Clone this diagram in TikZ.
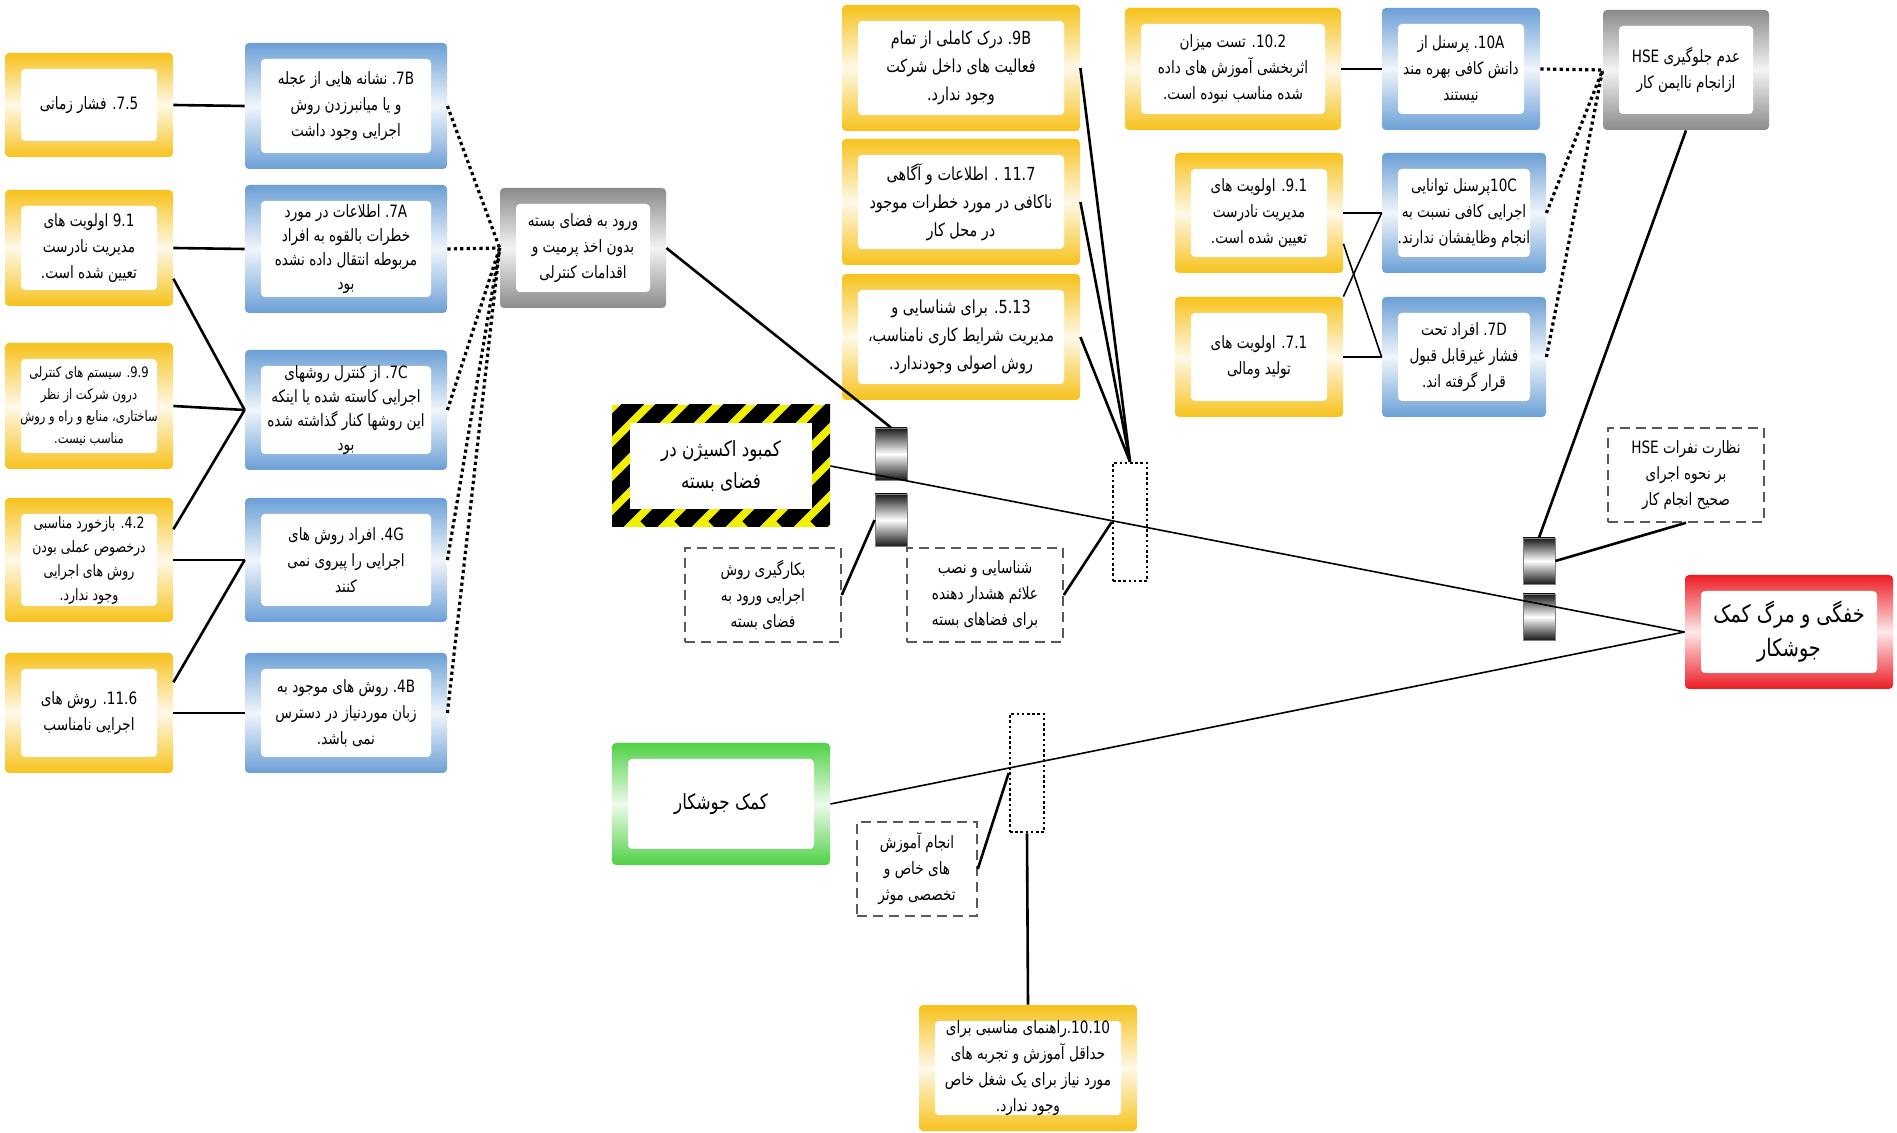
\documentclass[tikz,border=0pt]{standalone}
\usepackage{fontspec}
\newfontfamily\fafont[Script=Arabic, FakeStretch=0.8]{DejaVu Sans}
\TeXXeTstate=1
\newcommand{\fa}[1]{\beginR #1\endR}
\newcommand{\nm}[1]{\beginL #1\endL{}}
\definecolor{boxyellow}{HTML}{F7C21C}
\definecolor{boxblue}{HTML}{6B9FD6}
\definecolor{boxgrey}{HTML}{8A8A8A}
\definecolor{boxred}{HTML}{EC1C24}
\definecolor{boxgreen}{HTML}{4FD144}
\definecolor{hazyellow}{HTML}{F0F000}
\tikzset{
  glowbox/.style={rounded corners=2pt, top color=#1, bottom color=#1, middle color=#1!10,
    align=center, inner sep=0pt,
    path picture={\fill[white] ([xshift=8pt,yshift=-8pt]path picture bounding box.north west)
      rectangle ([xshift=-8pt,yshift=8pt]path picture bounding box.south east);}},
  ybox/.style={glowbox=boxyellow, minimum width=84pt, minimum height=60pt},
  bbox/.style={glowbox=boxblue, minimum width=101pt, minimum height=62pt},
  gbox/.style={glowbox=boxgrey, minimum width=83pt, minimum height=60pt},
  hazbox/.style={minimum width=109pt, minimum height=61pt, align=center, inner sep=0pt,
    path picture={
      \fill[hazyellow] (path picture bounding box.south west) rectangle (path picture bounding box.north east);
      \foreach \k in {-5,...,8}
        \draw[line width=8pt] ([xshift=\k*17pt]path picture bounding box.south west) -- ++(70pt,70pt);
      \fill[white] ([xshift=9pt,yshift=-9pt]path picture bounding box.north west)
        rectangle ([xshift=-9pt,yshift=9pt]path picture bounding box.south east);}},
  barrier/.style={draw=black!50, top color=black!90, bottom color=black!90, middle color=white,
    minimum width=16pt, minimum height=26pt, inner sep=0pt},
  dbox/.style={draw=black!65, line width=0.8pt, dash pattern=on 5pt off 3pt, align=center,
    minimum width=78pt, minimum height=47pt, inner sep=0pt},
  dotrect/.style={draw, line width=1.3pt, dash pattern=on 1.3pt off 1.3pt,
    minimum width=17pt, minimum height=59pt, inner sep=0pt},
  link/.style={line width=1.3pt},
  thinlink/.style={line width=0.8pt},
  dots/.style={line width=1.6pt, dash pattern=on 1.6pt off 1.6pt}
}
\begin{document}
\begin{tikzpicture}[x=0.5pt, y=-0.5pt, font=\fafont\fontsize{8.5}{13}\selectfont]
\useasboundingbox[fill=white] (0,0) rectangle (1897,1133);

% left column, yellow
\node[ybox, minimum height=52pt] (y1) at (89,105) {\fa{\nm{7.5}. فشار زمانی}};
\node[ybox, minimum height=58pt] (y2) at (89,248) {\fa{\nm{9.1} اولویت های}\\\fa{مدیریت نادرست}\\\fa{تعیین شده است.}};
\node[ybox, minimum height=63pt, font=\fafont\fontsize{7.2}{11}\selectfont] (y3) at (89,406) {\fa{\nm{9.9}. سیستم های کنترلی}\\\fa{درون شرکت از نظر}\\\fa{ساختاری، منابع و راه و روش}\\\fa{مناسب نیست.}};
\node[ybox, minimum height=62pt, font=\fafont\fontsize{7.8}{12}\selectfont] (y4) at (89,560) {\fa{\nm{4.2}. بازخورد مناسبی}\\\fa{درخصوص عملی بودن}\\\fa{روش های اجرایی}\\\fa{وجود ندارد.}};
\node[ybox] (y5) at (89,713) {\fa{\nm{11.6}. روش های}\\\fa{اجرایی نامناسب}};

% left column, blue
\node[bbox, minimum height=63pt] (b1) at (346,106) {\fa{\nm{7B}. نشانه هایی از عجله}\\\fa{و یا میانبرزدن روش}\\\fa{اجرایی وجود داشت}};
\node[bbox, minimum height=64pt, font=\fafont\fontsize{8.5}{12}\selectfont] (b2) at (346,249) {\fa{\nm{7A}. اطلاعات در مورد}\\\fa{خطرات بالقوه به افراد}\\\fa{مربوطه انتقال داده نشده}\\\fa{بود}};
\node[bbox, minimum height=60pt, font=\fafont\fontsize{8.5}{12}\selectfont] (b3) at (346,410) {\fa{\nm{7C}. از کنترل روشهای}\\\fa{اجرایی کاسته شده یا اینکه}\\\fa{این روشها کنار گذاشته شده}\\\fa{بود}};
\node[bbox] (b4) at (346,560) {\fa{\nm{4G}. افراد روش های}\\\fa{اجرایی را پیروی نمی}\\\fa{کنند}};
\node[bbox, minimum height=60pt] (b5) at (346,713) {\fa{\nm{4B}. روش های موجود به}\\\fa{زبان موردنیاز در دسترس}\\\fa{نمی باشد.}};

\node[gbox] (g1) at (583,248) {\fa{ورود به فضای بسته}\\\fa{بدون اخذ پرمیت و}\\\fa{اقدامات کنترلی}};

% top middle
\node[ybox, minimum width=119pt, minimum height=63pt, font=\fafont\fontsize{9}{14}\selectfont] (t1) at (961,68) {\fa{\nm{9B}. درک کاملی از تمام}\\\fa{فعالیت های داخل شرکت}\\\fa{وجود ندارد.}};
\node[ybox, minimum width=119pt, minimum height=63pt, font=\fafont\fontsize{9}{14}\selectfont] (t2) at (961,202) {\fa{\nm{11.7} . اطلاعات و آگاهی}\\\fa{ناکافی در مورد خطرات موجود}\\\fa{در محل کار}};
\node[ybox, minimum width=119pt, minimum height=63pt, font=\fafont\fontsize{9}{14}\selectfont] (t3) at (961,337) {\fa{\nm{5.13}. برای شناسایی و}\\\fa{مدیریت شرایط کاری نامناسب،}\\\fa{روش اصولی وجودندارد.}};

% top right
\node[ybox, minimum width=108pt, minimum height=61pt] (t4) at (1233,69) {\fa{\nm{10.2}. تست میزان}\\\fa{اثربخشی آموزش های داده}\\\fa{شده مناسب نبوده است.}};
\node[bbox, minimum width=79pt, minimum height=61pt] (b6) at (1461,69) {\fa{\nm{10A}. پرسنل از}\\\fa{دانش کافی بهره مند}\\\fa{نیستند}};
\node[gbox] (g2) at (1686,70) {\fa{عدم جلوگیری \nm{HSE}}\\\fa{ازانجام ناایمن کار}};
\node[ybox] (y7) at (1259,213) {\fa{\nm{9.1}. اولویت های}\\\fa{مدیریت نادرست}\\\fa{تعیین شده است.}};
\node[ybox] (y8) at (1259,357) {\fa{\nm{7.1}. اولویت های}\\\fa{تولید ومالی}};
\node[bbox, minimum width=82pt, minimum height=60pt] (b7) at (1464,213) {\fa{\nm{10C}پرسنل توانایی}\\\fa{اجرایی کافی نسبت به}\\\fa{انجام وظایفشان ندارند.}};
\node[bbox, minimum width=82pt, minimum height=60pt] (b8) at (1464,357) {\fa{\nm{7D}. افراد تحت}\\\fa{فشار غیرقابل قبول}\\\fa{قرار گرفته اند.}};

% hazard, barriers, consequence
\node[hazbox, font=\fafont\fontsize{10.5}{16}\selectfont] (haz) at (721,466) {\fa{کمبود اکسیژن در}\\\fa{فضای بسته}};
\node[barrier] (bar1) at (891,454) {};
\node[barrier] (bar2) at (891,520) {};
\node[barrier, minimum height=23pt] (bar3) at (1539,561) {};
\node[barrier, minimum height=23pt] (bar4) at (1539,617) {};
\node[dbox] (d1) at (763,595) {\fa{بکارگیری روش}\\\fa{اجرایی ورود به}\\\fa{فضای بسته}};
\node[dbox] (d2) at (985,595) {\fa{شناسایی و نصب}\\\fa{علائم هشدار دهنده}\\\fa{برای فضاهای بسته}};
\node[dotrect] (e1) at (1130,522) {};
\node[dbox] (d3) at (1686,475) {\fa{نظارت نفرات \nm{HSE}}\\\fa{بر نحوه اجرای}\\\fa{صحیح انجام کار}};
\node[glowbox=boxred, minimum width=104pt, minimum height=57pt, font=\fafont\fontsize{12}{17}\selectfont] (red) at (1789,632) {\fa{خفگی و مرگ کمک}\\\fa{جوشکار}};
\node[glowbox=boxgreen, minimum width=109pt, minimum height=61pt, font=\fafont\fontsize{10.5}{15}\selectfont] (grn) at (721,804) {\fa{کمک جوشکار}};
\node[dotrect] (e2) at (1027,773) {};
\node[dbox, minimum width=60pt] (d4) at (917,869) {\fa{انجام آموزش}\\\fa{های خاص و}\\\fa{تخصصی موثر}};
\node[ybox, minimum width=109pt, minimum height=63pt] (y9) at (1028,1068) {\fa{\nm{10.10}.راهنمای مناسبی برای}\\\fa{حداقل آموزش و تجربه های}\\\fa{مورد نیاز برای یک شغل خاص}\\\fa{وجود ندارد.}};

% connectors
\draw[link] (y1.east) -- (b1.west);
\draw[link] (y2.east) -- (b2.west);
\draw[link] (y2.-20) -- (b3.west);
\draw[link] (y3.east) -- (b3.west);
\draw[link] (y4.20) -- (b3.west);
\draw[link] (y4.east) -- (b4.west);
\draw[link] (y5.20) -- (b4.west);
\draw[link] (y5.east) -- (b5.west);
\foreach \b in {b1,b2,b3,b4,b5}
  \draw[dots] (\b.east) -- (g1.west);
\draw[link] (g1.east) -- (bar1.north);
\foreach \t in {t1,t2,t3}
  \draw[link] (\t.east) -- (e1.north);
\draw[link] (d1.east) -- (bar2.west);
\draw[link] (d2.east) -- (e1.west);
\draw[link] (t4.east) -- (b6.west);
\foreach \b in {b6,b7,b8}
  \draw[dots] (\b.east) -- (g2.west);
\draw[thinlink] (y7.east) -- (b7.west);
\draw[thinlink] (y8.east) -- (b8.west);
\draw[thinlink] (y7.-20) -- (b8.west);
\draw[thinlink] (y8.north east) -- (b7.west);
\draw[link] (g2.south) -- (bar3.north);
\draw[link] (d3.south) -- (bar3.east);
\draw[thinlink] (haz.east) -- (red.west);
\draw[thinlink] (grn.east) -- (red.west);
\draw[link] (d4.east) -- (e2.west);
\draw[link] (y9.north) -- (e2.south);
\end{tikzpicture}
\end{document}
